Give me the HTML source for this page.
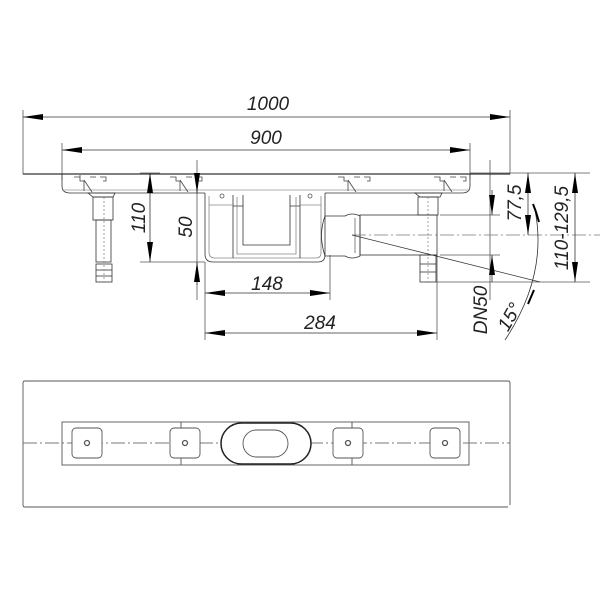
<!DOCTYPE html>
<html><head><meta charset="utf-8"><style>html,body{margin:0;padding:0;background:#fff}svg{display:block}</style></head>
<body>
<svg width="600" height="600" viewBox="0 0 600 600" xmlns="http://www.w3.org/2000/svg" font-family="Liberation Sans, sans-serif" font-style="italic">
<defs>
<marker id="a" viewBox="0 0 20 6" refX="20" refY="3" markerWidth="20" markerHeight="6" orient="auto-start-reverse" markerUnits="userSpaceOnUse"><path d="M0,0 L20,3 L0,6 Z" fill="#000"/></marker>
</defs>
<g stroke="#555" stroke-width="0.8" fill="none">
<line x1="23" y1="110" x2="23" y2="174"/>
<line x1="510" y1="110" x2="510" y2="174"/>
<line x1="62" y1="143" x2="62" y2="180"/>
<line x1="470" y1="143" x2="470" y2="180"/>
<line x1="197" y1="160" x2="197" y2="300"/>
<line x1="205" y1="262" x2="205" y2="340"/>
<line x1="330" y1="255" x2="330" y2="300"/>
<line x1="437" y1="255" x2="437" y2="340"/>
<line x1="140" y1="173" x2="160" y2="173"/>
<line x1="140" y1="262" x2="205" y2="262"/>
<line x1="470" y1="173" x2="590" y2="173"/>
<line x1="440" y1="215" x2="500" y2="215"/>
<line x1="440" y1="255" x2="500" y2="255"/>
<line x1="437" y1="282" x2="590" y2="282"/>
<line x1="490" y1="160" x2="490" y2="300"/>
<line x1="23" y1="174" x2="510" y2="174" stroke="#333" stroke-width="1.2"/>
<path d="M62,174 V186 Q62,193 70,193 H205 M325,193 H462 Q470,193 470,186 V174" stroke="#333"/>
<line x1="62" y1="190" x2="470" y2="190" stroke="#999"/>
<g stroke="#444">
<path d="M74,177 h6 v4 h4 v10 M90,177 h6 M100,177 h6 v4 h-3 M80,175 v4"/>
<path d="M170,177 h6 v4 h4 v10 M186,177 h6 M196,177 h6 v4 h-3"/>
<path d="M338,177 h6 v4 h4 v10 M354,177 h6 M364,177 h6 v4 h-3"/>
<path d="M434,177 h6 v4 h4 v10 M450,177 h6 M460,177 h6 v4 h-3"/>
<line x1="84" y1="180" x2="92" y2="192"/><line x1="180" y1="180" x2="188" y2="192"/>
<line x1="348" y1="180" x2="356" y2="192"/><line x1="444" y1="180" x2="452" y2="192"/>
</g>
<g stroke="#333">
<path d="M88,193 h27 l-2,4 h-20 z"/>
<rect x="93" y="197" width="20" height="23"/>
<rect x="96" y="220" width="15" height="42"/>
<rect x="96" y="264" width="16" height="18"/>
<line x1="96" y1="270" x2="112" y2="270"/><line x1="96" y1="276" x2="112" y2="276"/>
<path d="M415,193 h27 l-2,4 h-20 z"/>
<rect x="418" y="197" width="20" height="18"/>
<rect x="420" y="255" width="16" height="27"/>
<line x1="420" y1="264" x2="436" y2="264"/><line x1="420" y1="272" x2="436" y2="272"/>
</g>
<line x1="104" y1="197" x2="104" y2="282" stroke-dasharray="2,2" stroke="#888"/>
<line x1="428" y1="197" x2="428" y2="282" stroke-dasharray="2,2" stroke="#888"/>
<path d="M205,193 V254 Q205,262 213,262 H318 Q325,262 325,255 V193" stroke="#333"/>
<path d="M209,196 V252 Q209,258 215,258 H316 Q321,258 321,253 V196" stroke="#888"/>
<path d="M233,195 V258 M300,195 V258 M233,206 H243 V245 H290 V206 H300" stroke="#333"/>
<path d="M237,197 V254 H296 V197" stroke="#888"/>
<path d="M243,195 V206 M290,195 V206" stroke="#333"/>
<line x1="209" y1="205" x2="233" y2="205" stroke="#888"/>
<line x1="300" y1="205" x2="321" y2="205" stroke="#888"/>
<circle cx="222" cy="196" r="2"/><circle cx="310" cy="196" r="2"/>
<path d="M325,216 Q318,235 325,256" stroke="#333"/>
<path d="M325,216 H345 Q352,212 360,216 V256 Q352,260 345,256 H325" stroke="#333"/>
<rect x="360" y="215" width="77" height="40" stroke="#333"/>
<line x1="355" y1="218" x2="355" y2="253" stroke="#666"/>
<line x1="352" y1="235" x2="600" y2="235" stroke-dasharray="14,3,2,3" stroke="#777"/>
<line x1="352" y1="235" x2="540" y2="282" stroke="#333"/>
<line x1="23" y1="117" x2="510" y2="117" stroke="#333" marker-start="url(#a)" marker-end="url(#a)"/>
<line x1="62" y1="150" x2="470" y2="150" stroke="#333" marker-start="url(#a)" marker-end="url(#a)"/>
<line x1="150" y1="173" x2="150" y2="262" stroke="#333" marker-start="url(#a)" marker-end="url(#a)"/>
<line x1="197" y1="173" x2="197" y2="193" stroke="#333" marker-end="url(#a)"/>
<line x1="197" y1="285" x2="197" y2="262" stroke="#333" marker-end="url(#a)"/>
<line x1="205" y1="293" x2="330" y2="293" stroke="#333" marker-start="url(#a)" marker-end="url(#a)"/>
<line x1="205" y1="333" x2="437" y2="333" stroke="#333" marker-start="url(#a)" marker-end="url(#a)"/>
<line x1="492" y1="190" x2="492" y2="215" stroke="#333" marker-end="url(#a)"/>
<line x1="492" y1="282" x2="492" y2="255" stroke="#333" marker-end="url(#a)"/>
<line x1="528" y1="173" x2="528" y2="235" stroke="#333" marker-start="url(#a)" marker-end="url(#a)"/>
<line x1="575" y1="173" x2="575" y2="282" stroke="#333" marker-start="url(#a)" marker-end="url(#a)"/>
<path d="M535,210 Q548,275 505,340" stroke="#333"/>
<path d="M536,212 l-3,-8 M536,212 l3,10" stroke="#000" stroke-width="2"/>
<path d="M534,290 l-6,14" stroke="#000" stroke-width="2"/>
</g>
<g font-size="19" fill="#222">
<text x="268" y="110" text-anchor="middle">1000</text>
<text x="266" y="144" text-anchor="middle">900</text>
<text x="267" y="290" text-anchor="middle">148</text>
<text x="320" y="329" text-anchor="middle">284</text>
<text transform="translate(145,218) rotate(-90)" text-anchor="middle">110</text>
<text transform="translate(192,227) rotate(-90)" text-anchor="middle">50</text>
<text transform="translate(521,203) rotate(-90)" text-anchor="middle">77,5</text>
<text transform="translate(568,228) rotate(-90)" text-anchor="middle">110-129,5</text>
<text transform="translate(487,310) rotate(-90)" text-anchor="middle">DN50</text>
<text transform="translate(515,320) rotate(-60)" text-anchor="middle">15°</text>
</g>
<g stroke="#555" stroke-width="0.9" fill="none">
<path d="M25,381 H508 Q510,381 510,383 V505 M508,507 H25 Q23,507 23,505 V383 Q23,381 25,381"/>
<rect x="62" y="422" width="407" height="43"/>
<line x1="181" y1="422" x2="181" y2="465"/>
<line x1="352" y1="422" x2="352" y2="465"/>
<line x1="23" y1="443" x2="510" y2="443" stroke-dasharray="14,3,2,3" stroke="#777"/>
<rect x="72" y="428" width="30" height="30" rx="4" fill="#fff"/>
<rect x="170" y="428" width="30" height="30" rx="4" fill="#fff"/>
<rect x="333" y="428" width="30" height="30" rx="4" fill="#fff"/>
<rect x="430" y="428" width="30" height="30" rx="4" fill="#fff"/>
<circle cx="87" cy="443" r="2.5" stroke-width="1.3"/><circle cx="185" cy="443" r="2.5" stroke-width="1.3"/>
<circle cx="348" cy="443" r="2.5" stroke-width="1.3"/><circle cx="445" cy="443" r="2.5" stroke-width="1.3"/>
<rect x="221" y="423" width="90" height="41" rx="20.5" fill="#fff" stroke="#222" stroke-width="1.5"/>
<rect x="243" y="430" width="45" height="27" rx="13.5"/>
</g>
</svg>
</body></html>
